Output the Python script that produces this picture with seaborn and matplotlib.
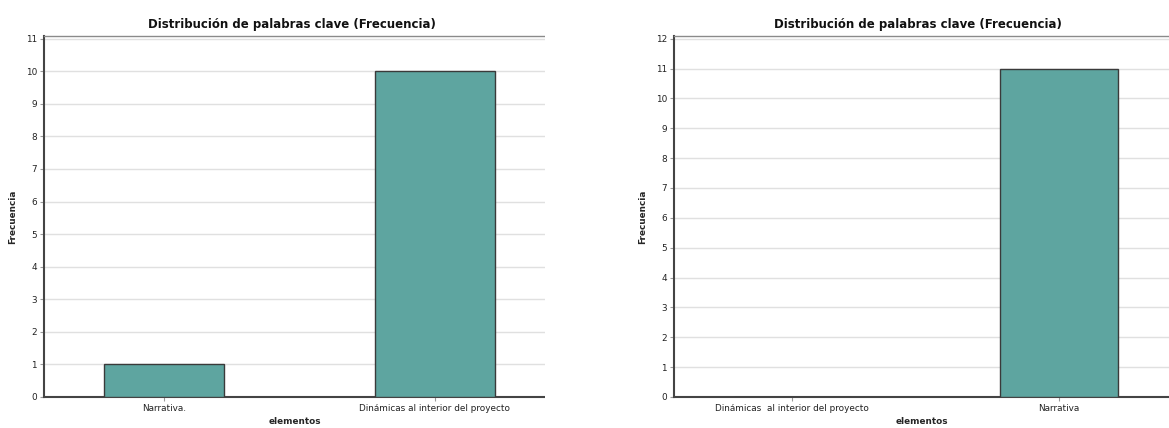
import matplotlib
matplotlib.use('Agg')
import matplotlib.pyplot as plt
import pandas as pd
import seaborn as sns
from matplotlib.patches import Rectangle

# datos de los dos graficos
cats_izq = ['Narrativa.', 'Dinámicas al interior del proyecto']
vals_izq = [1, 10]
cats_der = ['Dinámicas  al interior del proyecto', 'Narrativa']
vals_der = [0, 11]
ticks_izq = list(range(0, 12))
ticks_der = list(range(0, 13))

titulo = 'Distribución de palabras clave (Frecuencia)'
color_barra = '#5ea5a0'

sns.set_style('white')
plt.rcParams['font.family'] = ['DejaVu Sans']

W, H = 1169, 428
fig = plt.figure(figsize=(W / 100, H / 100), dpi=100)


def panel(x0, x1, y0, y1, cats, vals, yticks, ytop, xr):
    ax = fig.add_axes([x0 / W, 1 - y1 / H, (x1 - x0) / W, (y1 - y0) / H])
    df = pd.DataFrame({'elementos': cats, 'Frecuencia': vals})
    sns.barplot(data=df, x='elementos', y='Frecuencia', ax=ax, color=color_barra,
                width=0.44, edgecolor='#3a3a3a', linewidth=1.0, saturation=1, zorder=3)
    ax.set_xlim(-0.443, xr)
    ax.set_ylim(0, ytop)
    ax.set_yticks(yticks)
    ax.yaxis.grid(True, color='#e0e0e0', linewidth=1.0, zorder=0)
    ax.set_axisbelow(True)
    for s in ['left', 'bottom']:
        ax.spines[s].set_color('#444444')
        ax.spines[s].set_linewidth(1.5)
        ax.spines[s].set_zorder(2)
    ax.spines['top'].set_color('#8a8a8a')
    ax.spines['top'].set_linewidth(1.0)
    ax.spines['right'].set_visible(False)
    ax.tick_params(axis='both', labelsize=6.4, colors='#9a9a9a', labelcolor='#222222',
                   length=3, width=0.8, direction='out', left=True, bottom=True, pad=2)
    ax.set_title(titulo, fontsize=8.5, fontweight='bold', pad=6, color='#111111')
    ax.set_xlabel('elementos', fontsize=6.4, fontweight='bold', labelpad=3)
    ax.set_ylabel('Frecuencia', fontsize=6.4, fontweight='bold', labelpad=6)
    return ax


ax1 = panel(44, 545, 36, 397, cats_izq, vals_izq, ticks_izq, 11.08, 1.406)
ax1.title.set_position((0.495, 1.0))
ax2 = panel(674, 1169, 36, 397, cats_der, vals_der, ticks_der, 12.09, 1.412)
ax2.title.set_position((0.493, 1.0))

# la captura de la izquierda esta recortada
fig.patches.append(Rectangle((545 / W, 0), 50 / W, 1, transform=fig.transFigure,
                             facecolor='white', edgecolor='none', zorder=10))

fig.savefig('out.png', dpi=100, facecolor='white')
